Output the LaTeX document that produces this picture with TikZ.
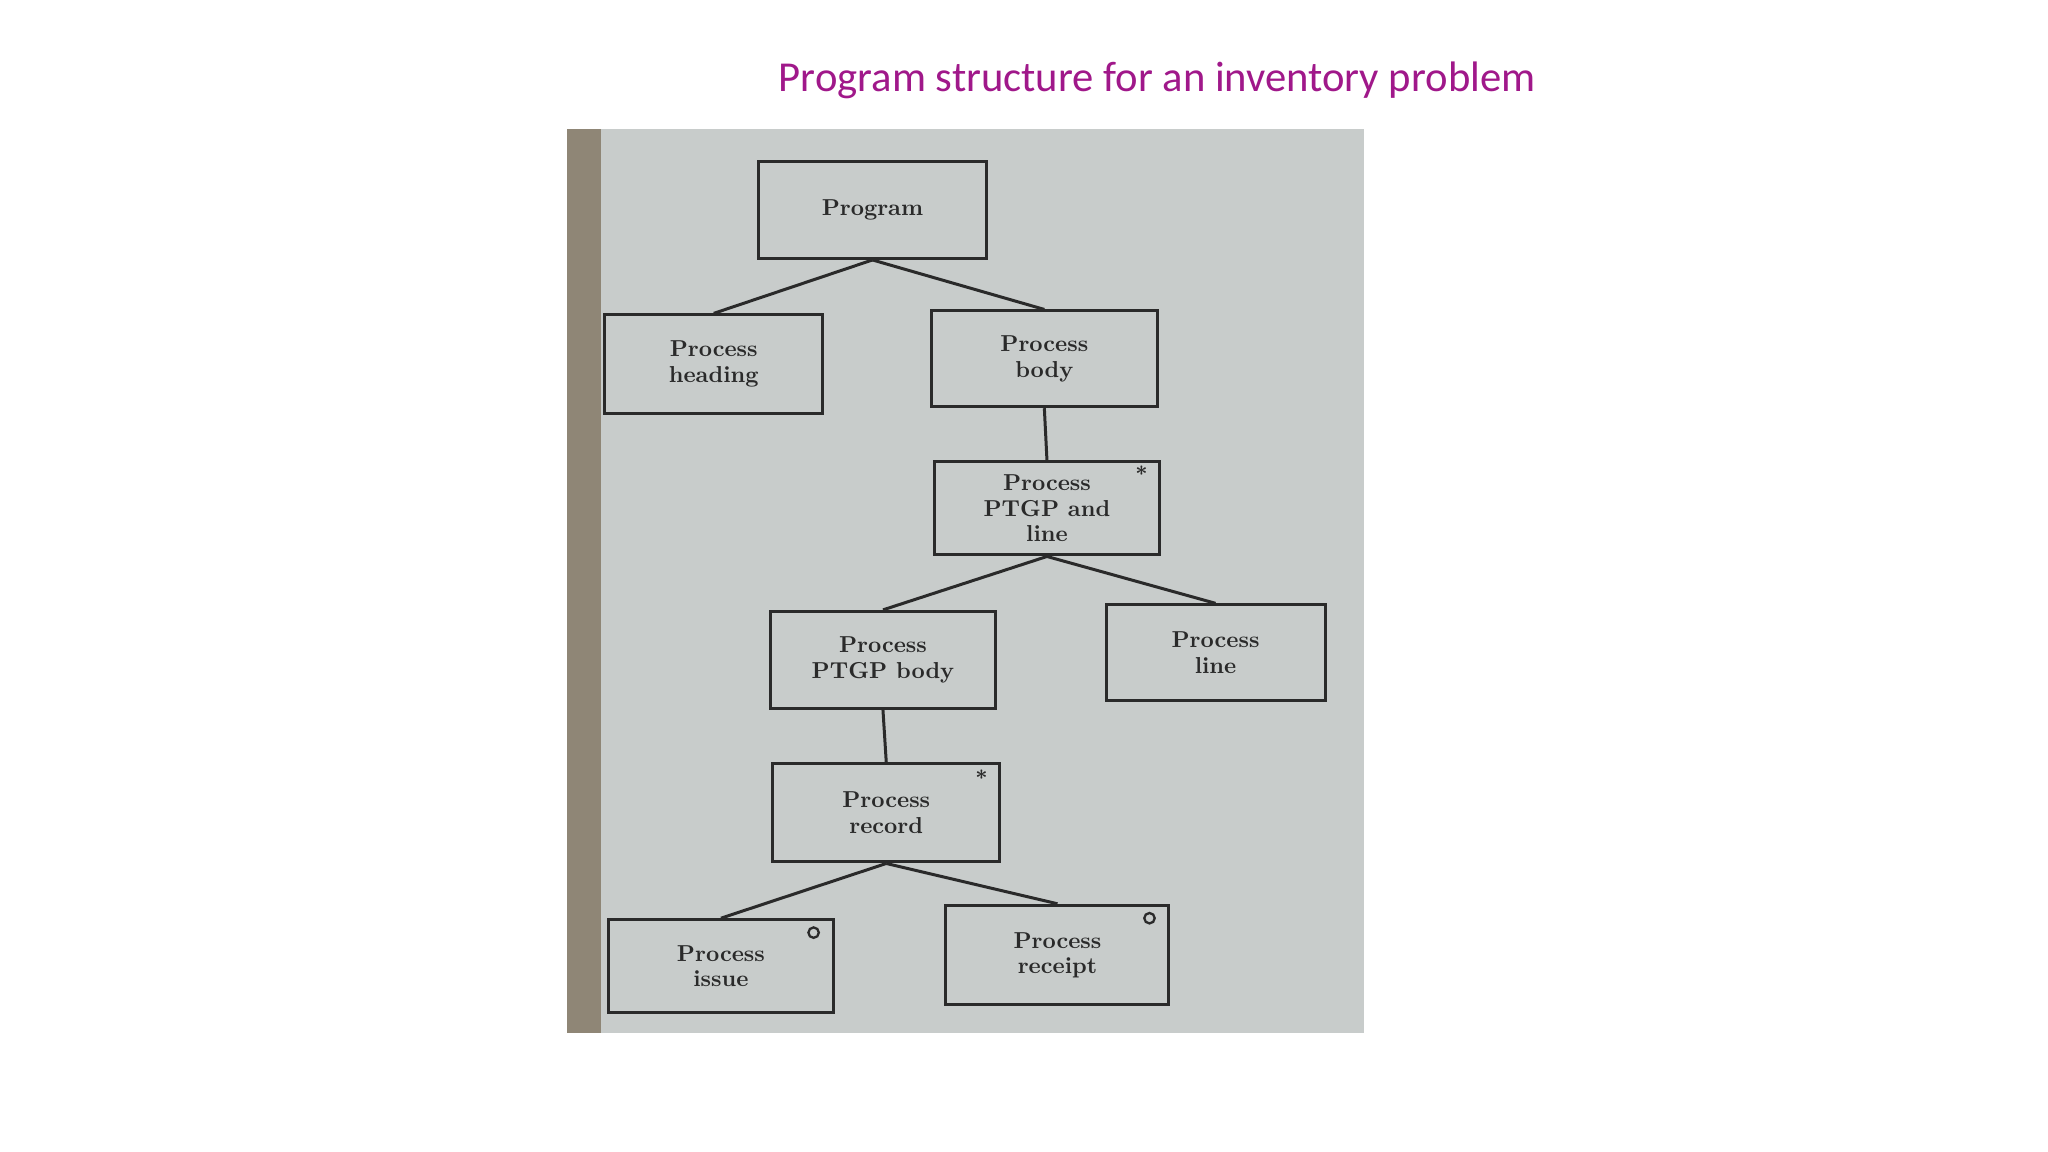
\documentclass[tikz,border=0pt]{standalone}
\usepackage{fontspec}
\newfontfamily\titlefont{Carlito}
\definecolor{photo}{HTML}{C8CCCB}
\definecolor{strip}{HTML}{8F8676}
\definecolor{ink}{HTML}{2A2A2A}
\definecolor{ttl}{HTML}{A0188A}
\begin{document}
\begin{tikzpicture}[x=0.02cm,y=-0.02cm,
  bx/.style={draw=ink,line width=1.3pt,fill=photo,align=center,font=\bfseries\fontsize{10}{11}\selectfont,text=ink,inner sep=0pt},
  ln/.style={draw=ink,line width=1.3pt}]
\useasboundingbox (0,0) rectangle (1561,878);
\fill[white] (0,0) rectangle (1561,878);
\fill[photo] (432,98) rectangle (1040,787);
\fill[strip] (432,98) rectangle (458,787);
\node[font=\titlefont\fontsize{18.5}{20}\selectfont,text=ttl] (t) at (882,61) {Program structure for an inventory problem};
\newcommand\bxat[6]{\node[bx,minimum width={(#4-#2)*0.02cm},minimum height={(#5-#3)*0.02cm}] (#1) at ({(#2+#4)/2},{(#3+#5)/2}) {#6};}
\bxat{p}{578}{123}{752}{197}{Program}
\bxat{h}{461}{240}{627}{315}{Process\\heading}
\bxat{b}{710}{237}{882}{310}{Process\\body}
\bxat{pl}{712}{352}{884}{423}{Process\\PTGP and\\line}
\bxat{pb}{587}{466}{759}{540}{Process\\PTGP body}
\bxat{l}{843}{461}{1010}{534}{Process\\line}
\bxat{r}{589}{582}{762}{657}{Process\\record}
\bxat{i}{464}{701}{635}{772}{Process\\issue}
\bxat{rc}{721}{690}{891}{766}{Process\\receipt}
\draw[ln] (p.south) -- (h.north);
\draw[ln] (p.south) -- (b.north);
\draw[ln] (b.south) -- (pl.north);
\draw[ln] (pl.south) -- (pb.north);
\draw[ln] (pl.south) -- (l.north);
\draw[ln] (pb.south) -- (r.north);
\draw[ln] (r.south) -- (i.north);
\draw[ln] (r.south) -- (rc.north);
\node[font=\bfseries\small,text=ink] (s1) at ([xshift=-15*0.02cm,yshift=-10*0.02cm]pl.north east) {*};
\node[font=\bfseries\small,text=ink] (s2) at ([xshift=-15*0.02cm,yshift=-12*0.02cm]r.north east) {*};
\node[draw=ink,circle,line width=1pt,inner sep=1.6pt] (o1) at ([xshift=-16*0.02cm,yshift=-11*0.02cm]i.north east) {};
\node[draw=ink,circle,line width=1pt,inner sep=1.6pt] (o2) at ([xshift=-16*0.02cm,yshift=-11*0.02cm]rc.north east) {};
\end{tikzpicture}
\end{document}
